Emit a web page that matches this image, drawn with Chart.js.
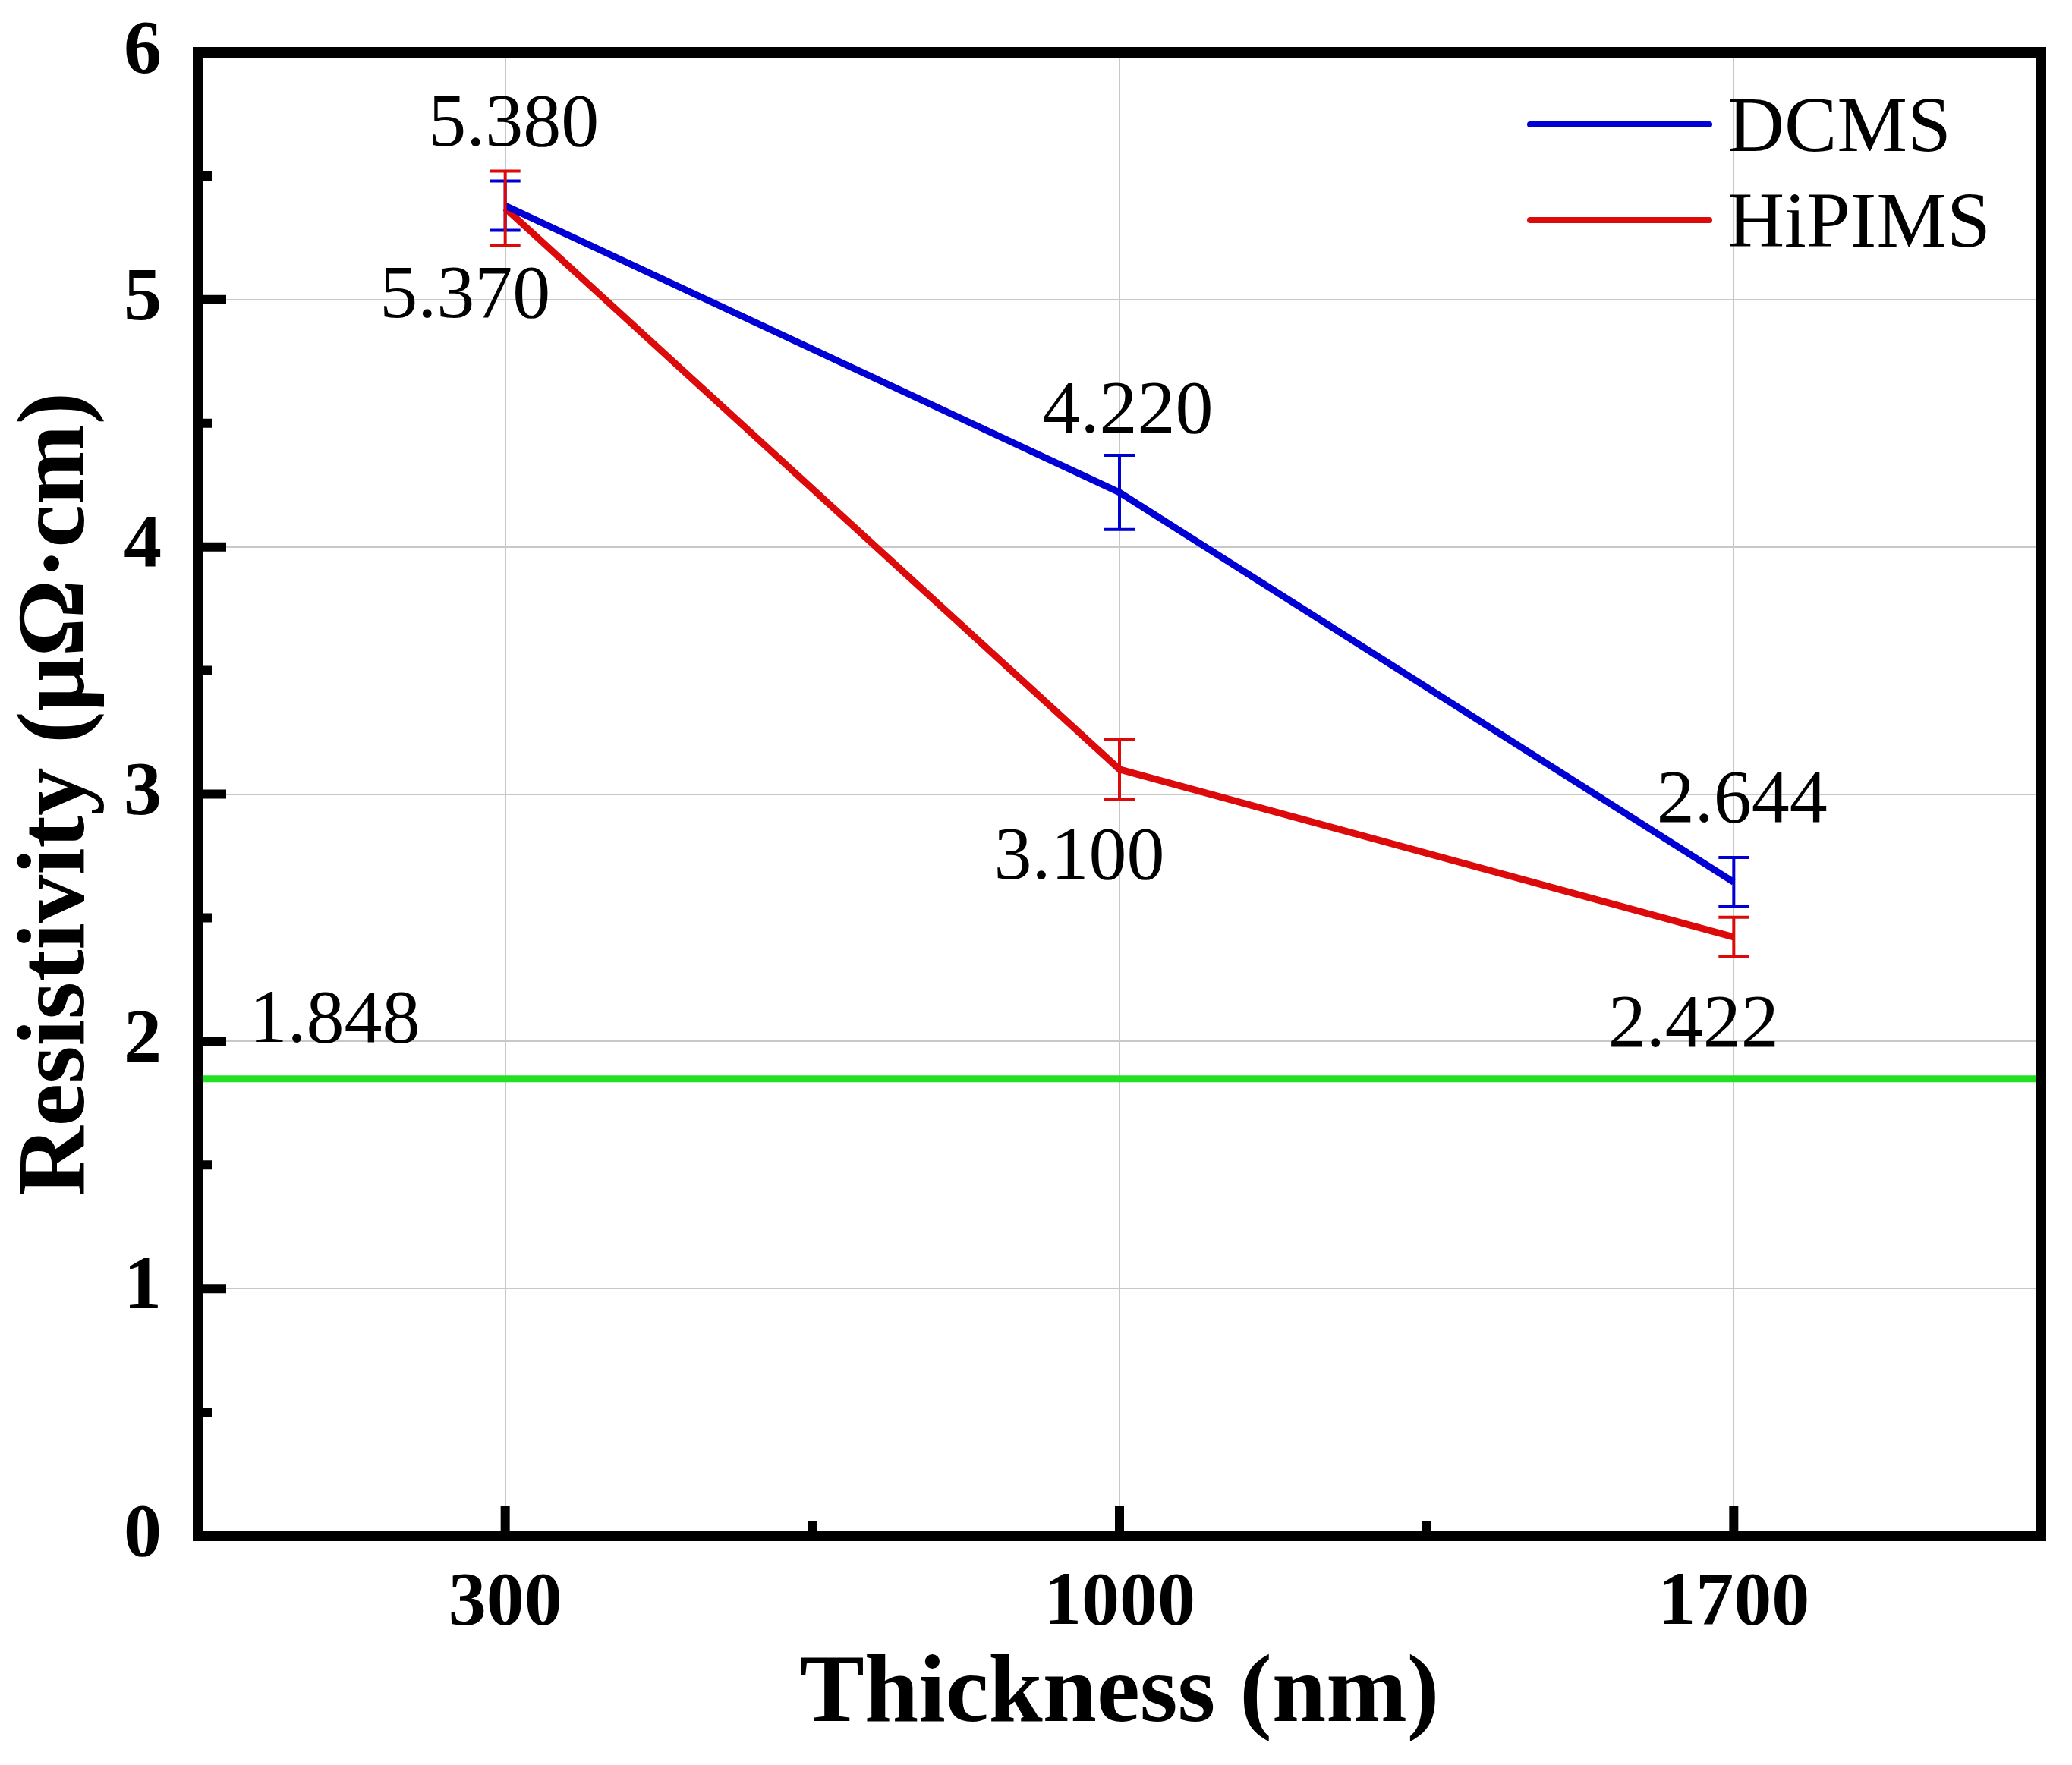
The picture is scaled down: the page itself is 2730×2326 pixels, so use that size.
<!DOCTYPE html>
<html>
<head>
<meta charset="utf-8">
<script src="https://cdn.jsdelivr.net/npm/chart.js@4.4.1/dist/chart.umd.min.js"></script>
<style>
html,body{margin:0;padding:0;background:#fff;}
#wrap{width:2730px;height:2326px;}
</style>
</head>
<body>
<div id="wrap"><canvas id="c" width="2730" height="2326"></canvas></div>
<script>
// ---- data ----
const thickness = [300, 1000, 1700];
const xTickValues = [300, 1000, 1700];
const xMinorTickValues = [650, 1350];
const dcms = [5.380, 4.220, 2.644];
const dcmsErr = [0.10, 0.15, 0.10];
const hipims = [5.370, 3.100, 2.422];
const hipimsErr = [0.15, 0.12, 0.08];
const dcmsLabels = ['5.380', '4.220', '2.644'];
const hipimsLabels = ['5.370', '3.100', '2.422'];
const bulkValue = 1.848;
const bulkLabel = '1.848';
const seriesNames = ['DCMS', 'HiPIMS'];
const xRange = [-50, 2050];
const yRange = [0, 6];
const yStep = 1;
const yMinorStep = 0.5;

// ---- styles ----
const FONT = "'Liberation Serif', 'Times New Roman', serif";
const BLUE = '#0000d4';
const RED = '#dc0a0a';
const GREEN = '#22e022';

const overlay = {
  id: 'overlay',
  afterDatasetsDraw(chart) {
    const { ctx, chartArea: a, scales: { x, y } } = chart;
    ctx.save();
    // bulk reference line
    const gy = y.getPixelForValue(bulkValue);
    ctx.strokeStyle = GREEN; ctx.lineWidth = 9; ctx.lineCap = 'butt';
    ctx.beginPath(); ctx.moveTo(a.left, gy); ctx.lineTo(a.right, gy); ctx.stroke();

    // error bars
    const series = [[dcms, dcmsErr, BLUE], [hipims, hipimsErr, RED]];
    series.forEach(([vals, errs, col]) => {
      ctx.strokeStyle = col; ctx.lineWidth = 4;
      vals.forEach((v, i) => {
        const px = x.getPixelForValue(thickness[i]);
        const t = y.getPixelForValue(v + errs[i]);
        const b = y.getPixelForValue(v - errs[i]);
        ctx.beginPath();
        ctx.moveTo(px, t); ctx.lineTo(px, b);
        ctx.moveTo(px - 20, t); ctx.lineTo(px + 20, t);
        ctx.moveTo(px - 20, b); ctx.lineTo(px + 20, b);
        ctx.stroke();
      });
    });

    // frame
    ctx.strokeStyle = '#000'; ctx.lineWidth = 14; ctx.lineJoin = 'miter';
    ctx.strokeRect(a.left, a.top, a.right - a.left, a.bottom - a.top);

    // inward ticks
    ctx.lineWidth = 12;
    ctx.beginPath();
    for (let v = yRange[0]; v <= yRange[1] + 1e-9; v += yStep) {
      const py = y.getPixelForValue(v);
      ctx.moveTo(a.left, py); ctx.lineTo(a.left + 37, py);
    }
    for (let v = yRange[0] + yMinorStep; v < yRange[1]; v += yStep) {
      const py = y.getPixelForValue(v);
      ctx.moveTo(a.left, py); ctx.lineTo(a.left + 18, py);
    }
    xTickValues.forEach(v => {
      const px = x.getPixelForValue(v);
      ctx.moveTo(px, a.bottom); ctx.lineTo(px, a.bottom - 39);
    });
    xMinorTickValues.forEach(v => {
      const px = x.getPixelForValue(v);
      ctx.moveTo(px, a.bottom); ctx.lineTo(px, a.bottom - 20);
    });
    ctx.stroke();

    // value labels
    ctx.fillStyle = '#000';
    ctx.font = `100px ${FONT}`;
    ctx.textAlign = 'center';
    ctx.textBaseline = 'alphabetic';
    dcms.forEach((v, i) => {
      const px = x.getPixelForValue(thickness[i]);
      const py = y.getPixelForValue(v);
      ctx.fillText(dcmsLabels[i], px + 11, py - 79);
    });
    hipims.forEach((v, i) => {
      const px = x.getPixelForValue(thickness[i]);
      const py = y.getPixelForValue(v);
      ctx.fillText(hipimsLabels[i], px - 53, py + 144);
    });
    ctx.fillText(bulkLabel, a.left + 180, gy - 49);

    // legend
    const cols = [BLUE, RED];
    ctx.font = `104px ${FONT}`;
    ctx.textAlign = 'left';
    seriesNames.forEach((name, i) => {
      const ly = a.top + 95 + i * 126;
      ctx.strokeStyle = cols[i]; ctx.lineWidth = 8; ctx.lineCap = 'round';
      ctx.beginPath(); ctx.moveTo(a.right - 673, ly); ctx.lineTo(a.right - 437, ly); ctx.stroke();
      ctx.fillText(name, a.right - 413, ly + 35);
    });
    ctx.restore();
  }
};

const mk = (vals) => thickness.map((t, i) => ({ x: t, y: vals[i] }));
const noPad = s => { s.paddingTop = 0; s.paddingBottom = 0; s.paddingLeft = 0; s.paddingRight = 0; };

new Chart(document.getElementById('c'), {
  type: 'line',
  data: {
    datasets: [
      { label: seriesNames[0], data: mk(dcms), borderColor: BLUE, borderWidth: 9, pointRadius: 0, tension: 0, fill: false },
      { label: seriesNames[1], data: mk(hipims), borderColor: RED, borderWidth: 9, pointRadius: 0, tension: 0, fill: false }
    ]
  },
  options: {
    responsive: false,
    animation: false,
    devicePixelRatio: 1,
    layout: { padding: { left: 0, top: 69, right: 41, bottom: 0 } },
    plugins: { legend: { display: false }, tooltip: { enabled: false } },
    scales: {
      x: {
        type: 'linear', min: xRange[0], max: xRange[1],
        afterBuildTicks: s => { s.ticks = xTickValues.map(v => ({ value: v })); },
        afterFit: s => { s.height = 302; noPad(s); },
        grid: { color: '#c8c8c8', lineWidth: 2, drawTicks: false },
        border: { display: false },
        ticks: { color: '#000', padding: 30, maxRotation: 0, autoSkip: false,
          font: { family: FONT, size: 100, weight: 'bold' }, callback: v => String(v) },
        title: { display: true, text: 'Thickness (nm)', color: '#000',
          font: { family: FONT, size: 128, weight: 'bold' }, padding: { top: 0, bottom: 14 } }
      },
      y: {
        type: 'linear', min: yRange[0], max: yRange[1],
        afterFit: s => { s.width = 261; noPad(s); },
        grid: { color: '#c8c8c8', lineWidth: 2, drawTicks: false },
        border: { display: false },
        ticks: { stepSize: yStep, color: '#000', padding: 48,
          font: { family: FONT, size: 100, weight: 'bold' }, callback: v => String(v) },
        title: { display: true, text: 'Resistivity (μΩ·cm)', color: '#000',
          font: { family: FONT, size: 127, weight: 'bold' }, padding: { top: 1, bottom: 0 } }
      }
    }
  },
  plugins: [overlay]
});
</script>
</body>
</html>
